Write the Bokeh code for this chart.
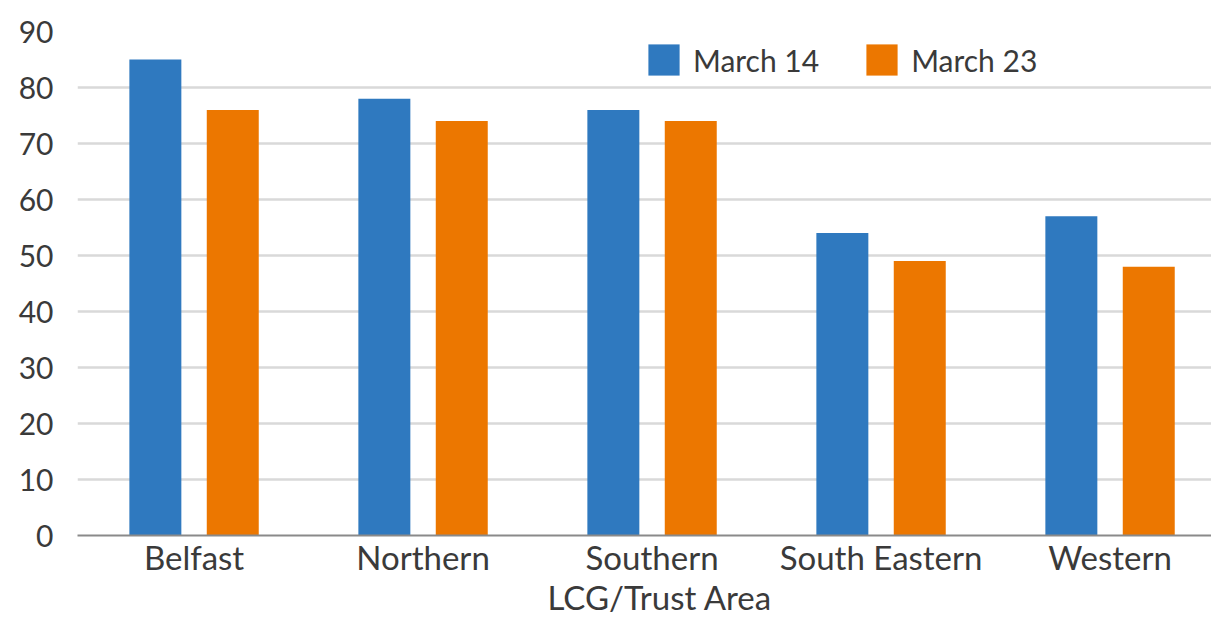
from bokeh.plotting import figure
from bokeh.models import ColumnDataSource, Range1d, FixedTicker, Legend, LegendItem, Title
from bokeh.embed import file_html
from bokeh.resources import INLINE

# LCG/Trust areas and the two survey dates
areas = ["Belfast", "Northern", "Southern", "South Eastern", "Western"]
march_14 = [85, 78, 76, 54, 57]
march_23 = [76, 74, 74, 49, 48]
y_ticks = [0, 10, 20, 30, 40, 50, 60, 70, 80, 90]

BLUE = "#2F79BF"
ORANGE = "#EC7700"
TEXT = "#3a3a3a"
FONT = "Lato"

centers = [i + 0.5 for i in range(len(areas))]
offset = 0.169
bar_w = 0.227

src14 = ColumnDataSource(dict(x=[c - offset for c in centers], top=march_14))
src23 = ColumnDataSource(dict(x=[c + offset for c in centers], top=march_23))

p = figure(
    width=1211, height=617,
    x_range=Range1d(-0.009, 4.943), y_range=Range1d(0, 90),
    output_backend="svg", toolbar_location=None,
    min_border_left=77, min_border_right=0, min_border_top=31, min_border_bottom=82,
)
p.outline_line_color = None
p.background_fill_color = "white"
p.border_fill_color = "white"

r14 = p.vbar(x="x", top="top", width=bar_w, source=src14, color=BLUE, line_color=None)
r23 = p.vbar(x="x", top="top", width=bar_w, source=src23, color=ORANGE, line_color=None)

# horizontal gridlines only
p.xgrid.grid_line_color = None
p.ygrid.grid_line_color = "#d9d9d9"
p.ygrid.grid_line_width = 2.5
p.yaxis.ticker = FixedTicker(ticks=y_ticks)

# y axis: labels only
p.yaxis.axis_line_color = None
p.yaxis.major_tick_line_color = None
p.yaxis.minor_tick_line_color = None
p.yaxis.major_tick_out = 0
p.yaxis.major_label_standoff = 24
p.yaxis.major_label_text_font = FONT
p.yaxis.major_label_text_font_size = "30px"
p.yaxis.major_label_text_color = TEXT

# x axis: area names under each pair of bars
p.xaxis.ticker = FixedTicker(ticks=centers)
p.xaxis.major_label_overrides = {c: a for c, a in zip(centers, areas)}
p.xaxis.axis_line_color = "#8a8a8a"
p.xaxis.axis_line_width = 2
p.xaxis.major_tick_line_color = None
p.xaxis.minor_tick_line_color = None
p.xaxis.major_tick_out = 0
p.xaxis.major_label_standoff = 1
p.xaxis.major_label_text_font = FONT
p.xaxis.major_label_text_font_size = "33px"
p.xaxis.major_label_text_color = TEXT

# axis title, set just under the area names
p.add_layout(Title(
    text="LCG/Trust Area", align="left", offset=470, standoff=-5,
    vertical_align="top",
    text_font=FONT, text_font_size="33px", text_font_style="normal", text_color=TEXT,
), "below")

# legend swatches are inset by 10% of the glyph box, hence the 39px boxes
legend = Legend(
    items=[LegendItem(label="March 14", renderers=[r14]),
           LegendItem(label="March 23", renderers=[r23])],
    orientation="horizontal",
    location=(567, 456),
    glyph_width=39, glyph_height=39,
    label_standoff=10, spacing=43, padding=0, margin=0,
    label_text_font=FONT, label_text_font_size="30px", label_text_color=TEXT,
    border_line_color=None, background_fill_color="white", background_fill_alpha=1,
)
p.add_layout(legend, "center")

open("out.html", "w").write(file_html(p, INLINE))
